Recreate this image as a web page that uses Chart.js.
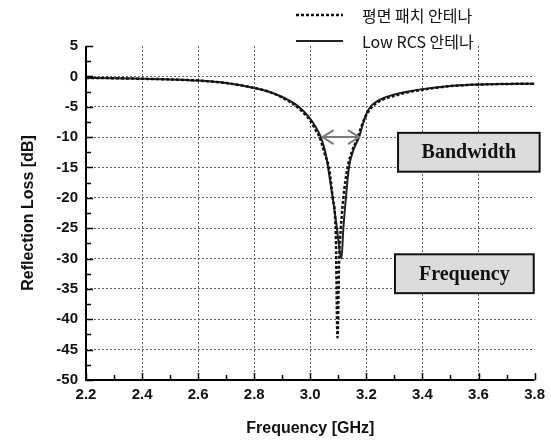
<!DOCTYPE html>
<html>
<head>
<meta charset="utf-8">
<script src="https://cdn.jsdelivr.net/npm/chart.js@4.4.1/dist/chart.umd.min.js"></script>
<style>
  html, body { margin: 0; padding: 0; background: #fff; }
  #wrap { width: 551px; height: 444px; }
</style>
</head>
<body>
<div id="wrap"><canvas id="rlChart" width="551" height="444"></canvas></div>
<script>
// Reflection loss: patch antenna vs Low RCS antenna

const freqPatch = [2.20, 2.30, 2.40, 2.50, 2.60, 2.70, 2.80, 2.85, 2.90, 2.95, 2.98, 3.00, 3.02, 3.033, 3.05, 3.068, 3.08, 3.091, 3.097, 3.103, 3.109, 3.118, 3.133, 3.15, 3.168, 3.183, 3.195, 3.21, 3.23, 3.26, 3.30, 3.35, 3.40, 3.50, 3.60, 3.70, 3.80];
const lossPatch = [-0.25, -0.3, -0.4, -0.5, -0.7, -1.1, -1.9, -2.5, -3.5, -4.9, -6.2, -7.3, -8.9, -10.0, -12.5, -15.5, -20.0, -26.0, -43.0, -30.0, -25.0, -20.0, -15.0, -12.2, -10.2, -8.2, -6.8, -5.6, -4.6, -3.8, -3.2, -2.6, -2.2, -1.6, -1.35, -1.25, -1.2];

const freqLowRcs = [2.20, 2.30, 2.40, 2.50, 2.60, 2.70, 2.80, 2.85, 2.90, 2.95, 2.98, 3.00, 3.02, 3.035, 3.05, 3.06, 3.07, 3.08, 3.095, 3.111, 3.118, 3.127, 3.138, 3.155, 3.174, 3.188, 3.20, 3.215, 3.235, 3.26, 3.30, 3.35, 3.40, 3.50, 3.60, 3.70, 3.80];
const lossLowRcs = [-0.25, -0.3, -0.4, -0.5, -0.7, -1.1, -1.9, -2.5, -3.4, -4.7, -5.9, -7.0, -8.4, -9.7, -11.8, -14.0, -17.0, -20.0, -25.0, -30.0, -25.0, -20.0, -15.0, -12.0, -10.0, -7.8, -6.2, -5.0, -4.2, -3.6, -3.0, -2.5, -2.1, -1.6, -1.35, -1.25, -1.2];

// -10 dB bandwidth marker
const bandFreq = [3.044, 3.174];
const bandLoss = [-10, -10];

const seriesLabels = ['평면 패치 안테나', 'Low RCS 안테나'];
const xTickValues = [2.2, 2.4, 2.6, 2.8, 3.0, 3.2, 3.4, 3.6, 3.8];
const xTickLabels = ['2.2', '2.4', '2.6', '2.8', '3.0', '3.2', '3.4', '3.6', '3.8'];
const yTickValues = [5, 0, -5, -10, -15, -20, -25, -30, -35, -40, -45, -50];
const yTickLabels = ['5', '0', '-5', '-10', '-15', '-20', '-25', '-30', '-35', '-40', '-45', '-50'];

// text boxes, in data units
const boxes = [
  { text: 'Bandwidth', x0: 3.313, x1: 3.818, y0: -9.3, y1: -15.7 },
  { text: 'Frequency', x0: 3.302, x1: 3.797, y0: -29.3, y1: -35.7 },
];

const toPts = (xs, ys) => xs.map((x, i) => ({ x, y: ys[i] }));

const sansBold = size => ({ family: 'Liberation Sans, Arial, sans-serif', size, weight: 'bold' });

// solid axes + inward major/minor ticks
const tickPlugin = {
  id: 'inwardTicks',
  afterDraw(chart) {
    const { ctx, chartArea: a, scales: { x, y } } = chart;
    ctx.save();
    ctx.strokeStyle = '#000';
    ctx.lineWidth = 2;
    ctx.beginPath();
    ctx.moveTo(a.left, a.top); ctx.lineTo(a.left, a.bottom); ctx.lineTo(a.right, a.bottom);
    ctx.stroke();
    ctx.lineWidth = 1.5;
    ctx.beginPath();
    for (let v = -50; v <= 5.001; v += 2.5) {
      const py = Math.round(y.getPixelForValue(v)) + 0.5;
      const len = Math.abs(v % 5) < 0.01 ? 7 : 5;
      ctx.moveTo(a.left, py); ctx.lineTo(a.left + len, py);
    }
    for (let v = 2.2; v <= 3.801; v += 0.1) {
      const px = Math.round(x.getPixelForValue(v)) + 0.5;
      const major = Math.round(v * 10) % 2 === 0;
      const len = major ? 7 : 5;
      ctx.moveTo(px, a.bottom); ctx.lineTo(px, a.bottom - len);
    }
    ctx.stroke();
    ctx.restore();
  }
};

const annoPlugin = {
  id: 'annotations',
  afterDatasetsDraw(chart) {
    const { ctx, scales: { x, y } } = chart;
    ctx.save();
    // arrow heads on the bandwidth line
    const bx0 = x.getPixelForValue(bandFreq[0]);
    const bx1 = x.getPixelForValue(bandFreq[1]);
    const by = y.getPixelForValue(bandLoss[0]);
    ctx.strokeStyle = '#7a7a7a';
    ctx.lineWidth = 2;
    ctx.beginPath();
    ctx.moveTo(bx0 + 11, by - 7); ctx.lineTo(bx0, by); ctx.lineTo(bx0 + 11, by + 7);
    ctx.moveTo(bx1 - 11, by - 7); ctx.lineTo(bx1, by); ctx.lineTo(bx1 - 11, by + 7);
    ctx.stroke();

    // label boxes
    boxes.forEach(b => {
      const l = x.getPixelForValue(b.x0), r = x.getPixelForValue(b.x1);
      const t = y.getPixelForValue(b.y0), btm = y.getPixelForValue(b.y1);
      ctx.fillStyle = '#dcdcdc';
      ctx.fillRect(l, t, r - l, btm - t);
      ctx.strokeStyle = '#111';
      ctx.lineWidth = 2;
      ctx.strokeRect(l, t, r - l, btm - t);
      ctx.fillStyle = '#111';
      ctx.font = 'bold 20px "Liberation Serif", "Times New Roman", serif';
      ctx.textAlign = 'center';
      ctx.textBaseline = 'middle';
      ctx.fillText(b.text, (l + r) / 2, (t + btm) / 2 + 1);
    });

    // legend (top, two rows)
    const ds = chart.data.datasets;
    [0, 1].forEach((i, row) => {
      const ly = 15 + row * 26;
      ctx.strokeStyle = ds[i].borderColor;
      ctx.lineWidth = ds[i].borderWidth;
      ctx.setLineDash(ds[i].borderDash || []);
      ctx.beginPath();
      ctx.moveTo(296, ly); ctx.lineTo(343, ly);
      ctx.stroke();
      ctx.setLineDash([]);
      ctx.fillStyle = '#111';
      ctx.font = '16px "Noto Sans CJK KR", "Noto Sans", sans-serif';
      ctx.textAlign = 'left';
      ctx.textBaseline = 'middle';
      ctx.fillText(ds[i].label, 362, ly + 1);
    });
    ctx.restore();
  }
};

const gridColor = hidden => ctx => (ctx.tick && hidden.includes(ctx.tick.value)) ? 'rgba(0,0,0,0)' : '#5e5e5e';

new Chart(document.getElementById('rlChart').getContext('2d'), {
  type: 'scatter',
  data: {
    datasets: [
      {
        label: seriesLabels[0],
        data: toPts(freqPatch, lossPatch),
        showLine: true,
        borderColor: '#111',
        borderWidth: 2.5,
        borderDash: [3, 2],
        pointRadius: 0,
        cubicInterpolationMode: 'monotone',
      },
      {
        label: seriesLabels[1],
        data: toPts(freqLowRcs, lossLowRcs),
        showLine: true,
        borderColor: '#222',
        borderWidth: 2,
        pointRadius: 0,
        cubicInterpolationMode: 'monotone',
      },
      {
        label: 'bandwidth',
        data: toPts(bandFreq, bandLoss),
        showLine: true,
        borderColor: '#7a7a7a',
        borderWidth: 2,
        pointRadius: 0,
      },
    ]
  },
  options: {
    responsive: false,
    animation: false,
    layout: { padding: { left: 0, right: 12, top: 46, bottom: 0 } },
    plugins: {
      legend: { display: false },
      tooltip: { enabled: false },
    },
    scales: {
      x: {
        type: 'linear',
        min: 2.2,
        max: 3.8,
        afterBuildTicks: s => { s.ticks = xTickValues.map(value => ({ value })); },
        afterFit: s => { s.height = 64; },
        ticks: {
          color: '#111',
          font: sansBold(15),
          padding: 6,
          maxRotation: 0,
          callback: (v, i) => xTickLabels[i],
        },
        grid: { color: gridColor([2.2, 3.8]), lineWidth: 1, drawTicks: false },
        border: { display: false, dash: [2, 2] },
        title: { display: true, text: 'Frequency [GHz]', color: '#111', font: sansBold(16), padding: { top: 0, bottom: 6 } },
      },
      y: {
        type: 'linear',
        min: -50,
        max: 5,
        afterBuildTicks: s => { s.ticks = yTickValues.map(value => ({ value })); },
        afterFit: s => { s.width = 86; },
        ticks: {
          color: '#111',
          font: sansBold(15),
          padding: 8,
          callback: (v, i) => yTickLabels[i],
        },
        grid: { color: gridColor([5, -50]), lineWidth: 1, drawTicks: false },
        border: { display: false, dash: [2, 2] },
        title: { display: true, text: 'Reflection Loss [dB]', color: '#111', font: sansBold(16), padding: { top: 19, bottom: 0 } },
      },
    },
  },
  plugins: [tickPlugin, annoPlugin],
});
</script>
</body>
</html>
